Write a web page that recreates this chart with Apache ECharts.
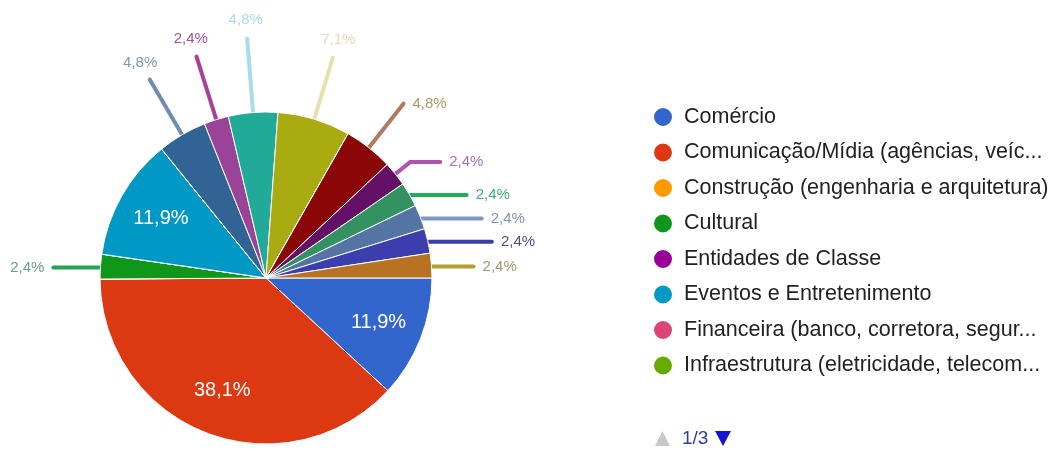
<!DOCTYPE html>
<html>
<head>
<meta charset="utf-8">
<script src="https://cdn.jsdelivr.net/npm/echarts@6/dist/echarts.min.js"></script>
<style>
  html, body { margin: 0; padding: 0; background: #fff; }
  #chart { width: 1055px; height: 452px; }
</style>
</head>
<body>
<div id="chart"></div>
<script>
// Sectors of activity (answer options) and their share of responses, in %
const sectors = [
  'Comércio',
  'Comunicação/Mídia (agências, veículos, produtoras)',
  'Construção (engenharia e arquitetura)',
  'Cultural',
  'Entidades de Classe',
  'Eventos e Entretenimento',
  'Financeira (banco, corretora, seguradora)',
  'Infraestrutura (eletricidade, telecomunicações, saneamento)',
  'Jurídico',
  'Logística e Transporte',
  'Marketing Promocional',
  'Moda e Beleza',
  'Órgãos Públicos',
  'Petróleo e Gás',
  'Química',
  'Saúde',
  'Serviços',
  'Tecnologia',
  'Terceiro Setor',
  'Turismo e Hotelaria',
  'Varejo'
];
const shares = [11.9, 38.1, 0, 2.4, 0, 11.9, 0, 0, 0, 4.8, 2.4, 4.8, 7.1, 0, 0, 4.8, 2.4, 2.4, 2.4, 2.4, 2.4];

// Slice colours
const palette = ['#3366cc', '#dc3912', '#ff9900', '#109618', '#990099', '#0099c6', '#dd4477', '#66aa00',
  '#b82e2e', '#316395', '#994499', '#22aa99', '#aaaa11', '#6633cc', '#e67300', '#8b0707',
  '#651067', '#329262', '#5574a6', '#3b3eac', '#b77322'];
// Outside label text and leader line colours
const labelInk = {3: '#62a488', 9: '#8097b2', 10: '#a4529c', 11: '#aad9e4', 12: '#e2ddb2', 15: '#a89a66',
  16: '#a272b6', 17: '#3fae6e', 18: '#8092b2', 19: '#4c4e94', 20: '#a29872'};
const lineInk = {3: '#22a552', 9: '#6f8db0', 10: '#a8409c', 11: '#a8dce6', 12: '#e6e0ae', 15: '#b07a62',
  16: '#b052b2', 17: '#22aa58', 18: '#7f98c2', 19: '#3b3eac', 20: '#b0a032'};
// Leader line per small slice: [radial length, horizontal length, label beyond the line end]
const leaders = {
  3: [3, 60, false],
  9: [80, 0, true],
  10: [82, 0, true],
  11: [90, 0, true],
  12: [80, 0, true],
  15: [72, 0, false],
  16: [35, 30, false],
  17: [15, 58, false],
  18: [12, 65, false],
  19: [12, 68, false],
  20: [3, 55, false]
};

const center = [266, 278];
const R = 166;
const perPage = 8;
const pages = Math.ceil(sectors.length / perPage);
const legendFont = 21.5;
const legendMax = legendFont * 16.98;

const pct = v => v.toFixed(1).replace('.', ',') + '%';

// shorten a legend entry to the available width, ending with "..."
const meter = document.createElement('canvas').getContext('2d');
meter.font = legendFont + 'px "Liberation Sans", Arial, sans-serif';
function fitText(s, maxW) {
  if (meter.measureText(s).width <= maxW) return s;
  let n = s.length;
  while (n > 0 && meter.measureText(s.slice(0, n) + '...').width > maxW) n--;
  return s.slice(0, n) + '...';
}

const baseData = sectors.map((name, i) => ({
  name, value: shares[i], itemStyle: { color: palette[i] }
}));

const guideData = sectors.map((name, i) => {
  const l = leaders[i];
  if (!l || shares[i] <= 0) return { name, value: shares[i], label: { show: false }, labelLine: { show: false } };
  return {
    name, value: shares[i],
    label: { show: true, position: 'outside', color: labelInk[i], formatter: p => pct(p.value) },
    labelLine: { show: true, length: l[0], length2: l[1], lineStyle: { color: lineInk[i], width: 4, cap: 'round' } }
  };
});

const innerData = sectors.map((name, i) => ({
  name, value: shares[i],
  label: { show: shares[i] > 10 }
}));

const chart = echarts.init(document.getElementById('chart'), null, { renderer: 'canvas' });
chart.setOption({
  animation: false,
  backgroundColor: '#ffffff',
  legend: {
    orient: 'vertical',
    left: 647,
    top: 101,
    icon: 'circle',
    itemWidth: 20,
    itemHeight: 20,
    itemGap: 13.5,
    selectedMode: false,
    data: sectors.slice(0, perPage),
    formatter: name => fitText(name, legendMax),
    textStyle: {
      fontFamily: '"Liberation Sans", Arial, sans-serif',
      fontSize: legendFont,
      lineHeight: 22,
      color: '#222222',
      padding: [0, 0, 0, 6]
    }
  },
  graphic: [
    { type: 'polygon', shape: { points: [[655, 446], [662.5, 431], [670, 446]] }, style: { fill: '#c9c9c9' } },
    { type: 'text', x: 682, y: 429, style: { text: '1/' + pages, fill: '#2b3da6', font: '19px "Liberation Sans", Arial, sans-serif' } },
    { type: 'polygon', shape: { points: [[715, 431], [731, 431], [723, 446]] }, style: { fill: '#1515d4' } }
  ],
  series: [
    {
      type: 'pie',
      center, radius: R,
      startAngle: 0, clockwise: true,
      avoidLabelOverlap: false,
      label: { show: false }, labelLine: { show: false },
      itemStyle: { borderColor: '#ffffff', borderWidth: 1 },
      emphasis: { disabled: true },
      data: baseData
    },
    {
      // leader lines and values for the small slices
      type: 'pie',
      center, radius: 150,
      startAngle: 0, clockwise: true,
      silent: true,
      avoidLabelOverlap: false,
      itemStyle: { color: 'transparent', borderWidth: 0 },
      emphasis: { disabled: true },
      label: { fontSize: 15, fontFamily: '"Liberation Sans", Arial, sans-serif', distanceToLabelLine: 9 },
      labelLayout: params => {
        const l = leaders[params.dataIndex];
        const pts = params.labelLinePoints;
        if (!l || !l[2] || !pts) return {};
        // continue along the line direction past its end
        const a = pts[0], end = pts[pts.length - 1];
        const dx = end[0] - a[0], dy = end[1] - a[1];
        const len = Math.hypot(dx, dy) || 1;
        return {
          x: end[0] + dx / len * 19, y: end[1] + dy / len * 19,
          align: 'center', verticalAlign: 'middle', labelLinePoints: pts
        };
      },
      data: guideData
    },
    {
      // values written inside the large slices
      type: 'pie',
      center, radius: R * 1.42,
      startAngle: 0, clockwise: true,
      silent: true,
      avoidLabelOverlap: false,
      itemStyle: { color: 'transparent', borderWidth: 0 },
      emphasis: { disabled: true },
      label: { position: 'inside', color: '#ffffff', fontSize: 20, fontFamily: '"Liberation Sans", Arial, sans-serif', formatter: p => pct(p.value) },
      labelLine: { show: false },
      data: innerData
    }
  ]
});
</script>
</body>
</html>
